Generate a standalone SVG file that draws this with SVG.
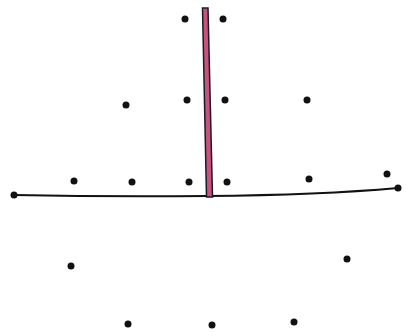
<svg xmlns="http://www.w3.org/2000/svg" width="408" height="336" viewBox="0 0 408 336">
<style>
.dot{fill:#111}
.ground{fill:none;stroke:#111;stroke-width:2}
.pole{fill:#c9527c;stroke:#1a1a2a;stroke-width:1.5}
</style>
<rect width="408" height="336" fill="#fff"/>
<g id="connectors">
<path class="ground" d="M14,195 Q110,197 207,196 Q320,195 398,188"/>
</g>
<g id="pole"><polygon class="pole" points="202.5,8 208,8 212.5,197 206.5,197"/></g>
<g id="dots">
<circle class="dot" cx="14" cy="195" r="3.5"/>
<circle class="dot" cx="398" cy="188" r="3.5"/>
<circle class="dot" cx="185" cy="19" r="3.5"/>
<circle class="dot" cx="223" cy="19" r="3.5"/>
<circle class="dot" cx="126" cy="105" r="3.5"/>
<circle class="dot" cx="187" cy="100" r="3.5"/>
<circle class="dot" cx="225" cy="100" r="3.5"/>
<circle class="dot" cx="307" cy="100" r="3.5"/>
<circle class="dot" cx="74" cy="181" r="3.5"/>
<circle class="dot" cx="132" cy="182" r="3.5"/>
<circle class="dot" cx="189" cy="182" r="3.5"/>
<circle class="dot" cx="227" cy="182" r="3.5"/>
<circle class="dot" cx="309" cy="179" r="3.5"/>
<circle class="dot" cx="387" cy="174" r="3.5"/>
<circle class="dot" cx="71" cy="266" r="3.5"/>
<circle class="dot" cx="347" cy="259" r="3.5"/>
<circle class="dot" cx="128" cy="324" r="3.5"/>
<circle class="dot" cx="212" cy="325" r="3.5"/>
<circle class="dot" cx="294" cy="322" r="3.5"/>
</g>
</svg>
